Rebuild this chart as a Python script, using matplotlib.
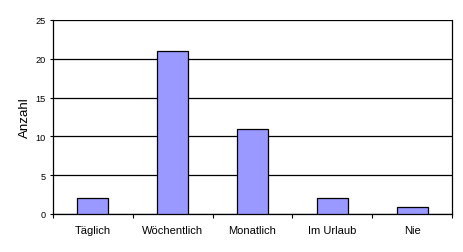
import matplotlib
matplotlib.use('Agg')
import matplotlib.pyplot as plt
import numpy as np

# data
categories = ['Täglich', 'Wöchentlich', 'Monatlich', 'Im Urlaub', 'Nie']
counts = [2, 21, 11, 2, 0.9]
y_ticks = [0, 5, 10, 15, 20, 25]

plt.rcParams['font.family'] = ['Liberation Sans', 'DejaVu Sans']

fig = plt.figure(figsize=(4.64, 2.53), dpi=100)
# plot area in pixel coords: x 53..452, y 21..215
ax = fig.add_axes([53/464, 1 - 215/253, (452-53)/464, (215-21)/253])

x = np.arange(len(categories))
ax.bar(x, counts, width=0.39, color='#9999ff', edgecolor='black', linewidth=0.9, zorder=3)

ax.set_xlim(-0.5, len(categories) - 0.5)
ax.set_ylim(0, 25)
ax.set_yticks(y_ticks)
ax.set_yticklabels([str(t) for t in y_ticks], fontsize=6.6)
ax.yaxis.grid(True, color='black', linewidth=0.9, zorder=0)

# category labels centered, tick marks between categories
ax.set_xticks(x)
ax.set_xticklabels(categories, fontsize=8)
ax.tick_params(axis='x', length=0, pad=8)
ax.set_xticks(np.arange(-0.5, len(categories), 1), minor=True)
ax.tick_params(axis='x', which='minor', length=3, width=0.8, direction='out')
ax.tick_params(axis='y', length=2.3, width=0.8, direction='out', pad=3.2)

for side in ['left', 'bottom', 'right']:
    ax.spines[side].set_linewidth(0.9)
    ax.spines[side].set_color('black')
ax.spines['top'].set_visible(False)

ax.set_ylabel('Anzahl', fontsize=9.6)
ax.yaxis.set_label_coords(-0.056, 0.5)

fig.savefig('out.png', dpi=100)
